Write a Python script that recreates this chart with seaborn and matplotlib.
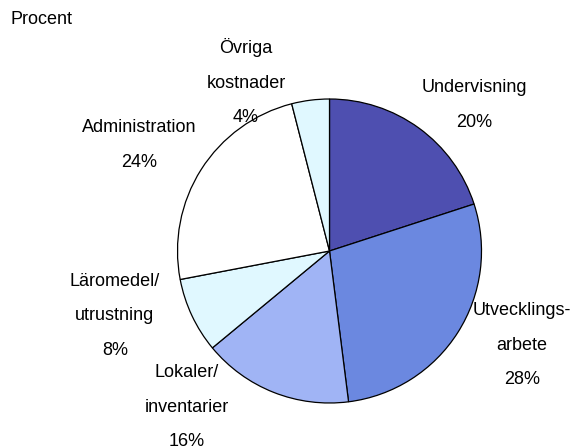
import matplotlib
matplotlib.use('Agg')
import matplotlib.pyplot as plt
import seaborn as sns

# Data
labels = ['Undervisning', 'Utvecklings-\narbete', 'Lokaler/\ninventarier',
          'Läromedel/\nutrustning', 'Administration', 'Övriga\nkostnader']
values = [20, 28, 16, 8, 24, 4]
colors = ['#4E4FB0', '#6B88E0', '#A0B4F5', '#E0F8FF', '#FFFFFF', '#E0F8FF']

# label centres in pixels (x, y from top)
label_pos = [(474, 105), (522, 345), (187, 407), (115, 316), (139, 145), (246, 82)]

sns.set_theme(style='white')
plt.rcParams['font.family'] = ['Liberation Sans', 'DejaVu Sans']

W, H = 584, 447
fig = plt.figure(figsize=(W / 100, H / 100), dpi=100)
cx, cy, r = 329.5, 251, 152
ax = fig.add_axes([(cx - r) / W, (H - cy - r) / H, 2 * r / W, 2 * r / H])

ax.pie(values, colors=colors, startangle=90, counterclock=False,
       wedgeprops=dict(edgecolor='black', linewidth=0.9))
ax.set_xlim(-1, 1)
ax.set_ylim(-1, 1)
ax.set_aspect('equal')
ax.axis('off')

for lab, v, (px, py) in zip(labels, values, label_pos):
    fig.text(px / W, 1 - py / H, f'{lab}\n{v}%', ha='center', va='center',
             fontsize=13, linespacing=2.35, color='black')

fig.text(10 / W, 1 - 20 / H, 'Procent', ha='left', va='center', fontsize=13,
         color='black')

fig.savefig('out.png', dpi=100)
